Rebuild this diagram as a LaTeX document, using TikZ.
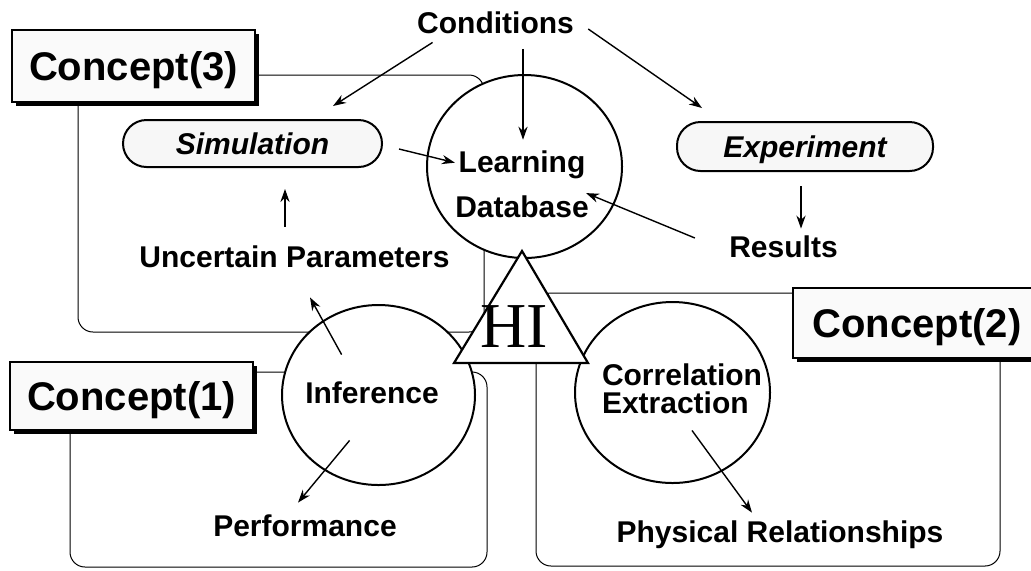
\documentclass[tikz,border=0pt]{standalone}
\usepackage{fontspec}
\setsansfont{Liberation Sans}
\newfontfamily\hifont{Liberation Serif}
\usetikzlibrary{arrows.meta,shapes.geometric,shadows,calc}

\begin{document}
\begin{tikzpicture}[
x=0.5pt, y=-0.5pt,
font=\sffamily\bfseries\fontsize{15}{18}\selectfont,
txt/.style={inner sep=0pt},
concept/.style={draw, line width=0.7pt, fill=gray!4, inner sep=0pt, text depth=0pt,
  font=\sffamily\bfseries\fontsize{20}{24}\selectfont,
  drop shadow={shadow xshift=1.75pt, shadow yshift=-1.75pt, fill=black, opacity=1}},
pill/.style={draw, line width=1pt, fill=gray!6, rounded corners=11.75pt, inner sep=0pt, text depth=0pt,
  font=\sffamily\bfseries\itshape\fontsize{15}{18}\selectfont},
bubble/.style={ellipse, draw, line width=1pt, fill=white, inner sep=0pt},
loopline/.style={line width=0.5pt, rounded corners=7.5pt},
flow/.style={-{Stealth[length=6.5pt,width=4.6pt]}, line width=0.7pt}
]
    % Frame
    \useasboundingbox[fill=white] (0,0) rectangle (1031,570);

    % Concept loops
    \draw[loopline] (78,75) rectangle (484,332);
    \draw[loopline] (70,372) rectangle (487,567);
    \draw[loopline] (536,293) rectangle (1000,566);

    % Concept boxes
    \node[concept, minimum width=121.5pt, minimum height=36pt] (conc3) at (133.5,66) {Concept(3)};
    \node[concept, minimum width=121.5pt, minimum height=34pt] (conc1) at (131.5,396) {Concept(1)};
    \node[concept, minimum width=124pt, minimum height=35pt] (conc2) at (917,323) {Concept(2)};

    % Bubbles
    \node[bubble, minimum width=97.5pt, minimum height=91.5pt] (ldb) at (524.5,166.5) {};
    \node[bubble, minimum width=96.5pt, minimum height=90pt] (infer) at (378.5,395) {};
    \node[bubble, minimum width=97.5pt, minimum height=90.5pt] (corr) at (672.5,392.5) {};

    % HI triangle
    \filldraw[fill=white, line width=1.1pt] (522,251) -- (588,363) -- (454,363) -- cycle;
    \node[inner sep=0pt, font=\hifont\fontsize{32}{32}\selectfont] (hi) at (514,326.5) {HI};

    % Pills
    \node[pill, minimum width=129.5pt, minimum height=23.5pt] (sim) at (252.5,143.5) {Simulation};
    \node[pill, minimum width=128pt, minimum height=24.5pt] (exp) at (805,146.5) {Experiment};

    % Labels
    \node[txt] (cond) at (495.5,22.5) {Conditions};
    \node[txt] (uncert) at (294.5,257) {Uncertain Parameters};
    \node[txt] (results) at (783.5,247) {Results};
    \node[txt, align=center, font=\sffamily\bfseries\fontsize{15}{22.5}\selectfont] (ldbtext) at (522,184.6) {Learning\\Database};
    \node[txt] (infertext) at (372,393) {Inference};
    \node[txt, align=left, font=\sffamily\bfseries\fontsize{15}{14}\selectfont] (corrtext) at (682,388.75) {Correlation\\Extraction};
    \node[txt] (perf) at (305,526) {Performance};
    \node[txt] (phys) at (780,535) {Physical Relationships};

    % Arrows
    \draw[flow] ($(cond.south west)+(15.8,8.5)$) -- ($(sim.north east)+(-50,-13)$);
    \draw[flow] ($(cond.south)+(27.5,15)$) -- ($(ldbtext.north)+(1,-11)$);
    \draw[flow] ($(cond.east)+(14,6.5)$) -- ($(exp.north west)+(26,-13)$);
    \draw[flow] ($(sim.east)+(16,5.5)$) -- ($(ldbtext.north west)+(0,12)$);
    \draw[flow] ($(results.west)+(-34,-9)$) -- ($(ldbtext.east)+(-3,8.5)$);
    \draw[flow] ($(exp.south)+(-4,14)$) -- ($(results.north)+(17.5,-7)$);
    \draw[flow] ($(uncert.north)+(-9.5,-19)$) -- ($(sim.south)+(32.5,21)$);
    \draw[flow] ($(infertext.north west)+(36.7,-27)$) -- ($(uncert.south)+(15.5,29)$);
    \draw[flow] ($(infertext.south west)+(44.7,36)$) -- ($(perf.north)+(-7,-12)$);
    \draw[flow] ($(corrtext.south)+(10,16.3)$) -- ($(phys.north)+(-28,-8)$);

\end{tikzpicture}
\end{document}
